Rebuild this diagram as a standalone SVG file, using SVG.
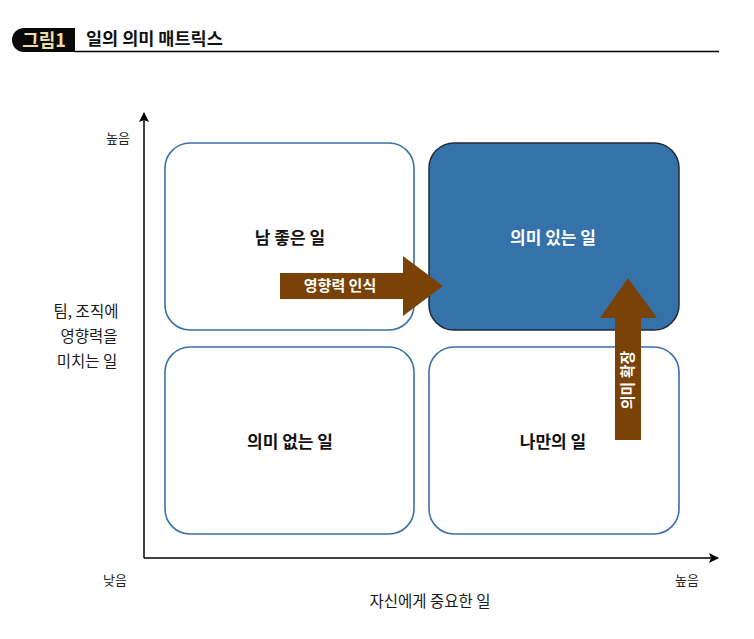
<svg xmlns="http://www.w3.org/2000/svg" width="754" height="639" viewBox="0 0 754 639">
<style>
text{font-family:"Noto Sans CJK KR","Noto Sans",sans-serif;}
.q{fill:#fff;stroke:#3a70aa;stroke-width:1.6;}
.lbl{font-size:17px;font-weight:bold;text-anchor:middle;fill:#111;}
.ax{font-size:13px;text-anchor:middle;fill:#222;}
.side{font-size:15.5px;text-anchor:middle;fill:#1a1a1a;}
.arr{fill:#7a4206;}
.at{font-size:15px;font-weight:bold;fill:#fff;text-anchor:middle;}
</style>
<defs>
<marker id="ah" markerWidth="10" markerHeight="10" refX="9" refY="5" orient="auto" markerUnits="userSpaceOnUse" viewBox="0 0 10 10">
<path d="M0,0 L10,5 L0,10 L2,5 Z" fill="#000"/>
</marker>
</defs>
<rect width="754" height="639" fill="#fff"/>
<g id="header">
<path d="M24,28 H75 V52 H24 A12,12 0 0 1 12,40 A12,12 0 0 1 24,28 Z" fill="#0a0a0a"/>
<text x="44" y="46.5" font-size="18" font-weight="bold" fill="#f2dca6" text-anchor="middle">그림1</text>
<text x="86" y="45" font-size="17.5" font-weight="bold" fill="#111">일의 의미 매트릭스</text>
<line x1="74" y1="51.5" x2="719" y2="51.5" stroke="#000" stroke-width="1.5"/>
</g>
<g id="axes">
<line x1="144" y1="558" x2="144" y2="113" stroke="#000" stroke-width="1.5" marker-end="url(#ah)"/>
<line x1="144" y1="558" x2="718" y2="558" stroke="#000" stroke-width="1.5" marker-end="url(#ah)"/>
<text class="ax" x="118" y="143">높음</text>
<text class="ax" x="115" y="585">낮음</text>
<text class="ax" x="687" y="585">높음</text>
<text class="side" x="430" y="607" font-size="16">자신에게 중요한 일</text>
<text class="side" x="86" y="317">팀, 조직에</text>
<text class="side" x="89" y="342">영향력을</text>
<text class="side" x="87" y="367">미치는 일</text>
</g>
<g id="q-tl"><rect class="q" x="165" y="143" width="249" height="187" rx="25"/><text class="lbl" x="290" y="244">남 좋은 일</text></g>
<g id="q-tr"><rect x="429" y="143" width="250" height="187" rx="25" fill="#3572a9" stroke="#1e2a38" stroke-width="1.5"/><text class="lbl" x="553" y="244" style="fill:#fff">의미 있는 일</text></g>
<g id="q-bl"><rect class="q" x="165" y="347" width="249" height="187" rx="25"/><text class="lbl" x="290" y="448">의미 없는 일</text></g>
<g id="q-br"><rect class="q" x="429" y="347" width="250" height="187" rx="25"/><text class="lbl" x="553" y="448">나만의 일</text></g>
<g id="connectors">
<g id="arrow-h"><path class="arr" d="M280,273 H403 V256 L443,286 L403,316 V299 H280 Z"/><text class="at" x="340" y="291">영향력 인식</text></g>
<g id="arrow-v"><path class="arr" d="M615,440 V318 H600 L628,278 L657,318 H641 V440 Z"/><text class="at" transform="translate(633,380) rotate(-90)" x="0" y="0">의미 확장</text></g>
</g>
</svg>
